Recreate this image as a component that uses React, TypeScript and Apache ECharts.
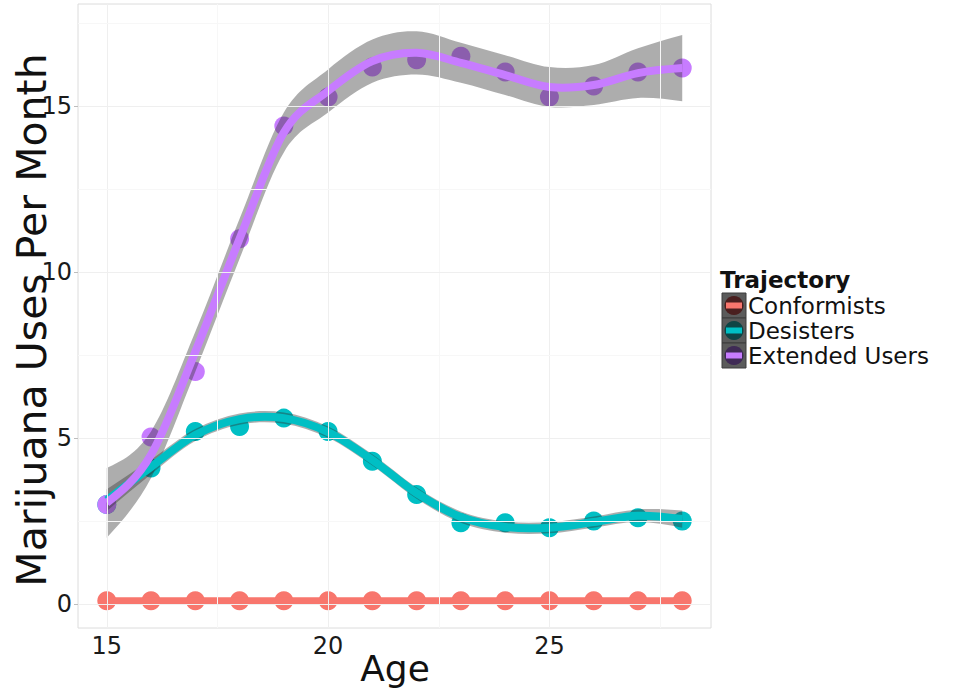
import React, { useEffect, useRef } from "react";
import * as echarts from "echarts";

// ---- data ----
const ages = [15, 16, 17, 18, 19, 20, 21, 22, 23, 24, 25, 26, 27, 28];
const groupNames = ["Conformists", "Desisters", "Extended Users"];
const groupColors = ["#F8766D", "#00BFC4", "#C77CFF"];
const keyDark = ["#4a1f1f", "#0f4445", "#3f2a55"];

const conformists = [0.1, 0.1, 0.1, 0.1, 0.1, 0.1, 0.1, 0.1, 0.1, 0.1, 0.1, 0.1, 0.1, 0.1];
const desisters = [3.0, 4.1, 5.2, 5.35, 5.6, 5.2, 4.3, 3.3, 2.45, 2.45, 2.3, 2.5, 2.6, 2.5];
const extended = [3.0, 5.03, 7.0, 11.0, 14.4, 15.27, 16.17, 16.39, 16.5, 16.02, 15.27, 15.6, 16.02, 16.14];

// smoothed fits (loess) and their confidence bands
const conformFit = [0.1, 0.1, 0.1, 0.1, 0.1, 0.1, 0.1, 0.1, 0.1, 0.1, 0.1, 0.1, 0.1, 0.1];
const desFit = [3.13, 4.13, 5.09, 5.57, 5.6, 5.18, 4.34, 3.34, 2.62, 2.32, 2.3, 2.47, 2.66, 2.56];
const desLower = [2.8, 3.91, 4.91, 5.4, 5.43, 5.01, 4.17, 3.17, 2.45, 2.15, 2.13, 2.3, 2.47, 2.3];
const desUpper = [3.46, 4.35, 5.27, 5.74, 5.77, 5.35, 4.51, 3.51, 2.79, 2.49, 2.47, 2.64, 2.85, 2.82];
const extFit = [3.05, 4.5, 7.6, 11.0, 14.2, 15.45, 16.35, 16.6, 16.3, 15.93, 15.57, 15.63, 15.99, 16.14];
const extLower = [2.0, 3.8, 7.0, 10.4, 13.6, 14.8, 15.7, 15.95, 15.7, 15.33, 14.97, 15.03, 15.24, 15.14];
const extUpper = [4.1, 5.2, 8.2, 11.6, 14.8, 16.1, 17.0, 17.25, 16.9, 16.53, 16.17, 16.23, 16.74, 17.14];

const xTicks = [15, 20, 25];
const yTicks = [0, 5, 10, 15];
const xMinor = [17.5, 22.5, 27.5];
const yMinor = [2.5, 7.5, 12.5, 17.5];

const FONT = "DejaVu Sans";

type Pt = [number, number];

// cubic Hermite segments through the given values (data space)
function segments(xs: number[], ys: number[]): Pt[][] {
  const n = xs.length;
  const m: number[] = ys.map((_, i) => {
    if (i === 0 || i === n - 1) return 0;
    return (ys[i + 1] - ys[i - 1]) / (xs[i + 1] - xs[i - 1]);
  });
  m[0] = (3 * (ys[1] - ys[0]) / (xs[1] - xs[0]) - m[1]) / 2;
  m[n - 1] = (3 * (ys[n - 1] - ys[n - 2]) / (xs[n - 1] - xs[n - 2]) - m[n - 2]) / 2;
  const out: Pt[][] = [];
  for (let i = 0; i < n - 1; i++) {
    const h = xs[i + 1] - xs[i];
    out.push([
      [xs[i], ys[i]],
      [xs[i] + h / 3, ys[i] + (m[i] * h) / 3],
      [xs[i + 1] - h / 3, ys[i + 1] - (m[i + 1] * h) / 3],
      [xs[i + 1], ys[i + 1]],
    ]);
  }
  return out;
}

export default function App() {
  const ref = useRef<HTMLDivElement>(null);
  useEffect(() => {
    document.body.style.margin = "0";
    const chart = echarts.init(ref.current!, null, { renderer: "svg" });
    const pts = (vals: number[]) => ages.map((a, i) => [a, vals[i]]);

    const gridLines: any[] = [
      ...xTicks.map((v) => ({ xAxis: v, lineStyle: { color: "#efefef", width: 1, type: "solid" } })),
      ...xMinor.map((v) => ({ xAxis: v, lineStyle: { color: "#f7f7f7", width: 1, type: "solid" } })),
      ...yTicks.map((v) => ({ yAxis: v, lineStyle: { color: "#efefef", width: 1, type: "solid" } })),
      ...yMinor.map((v) => ({ yAxis: v, lineStyle: { color: "#f7f7f7", width: 1, type: "solid" } })),
    ];

    const scatter = (vals: number[], color: string) => ({
      type: "scatter",
      data: pts(vals),
      symbolSize: 19,
      itemStyle: { color, opacity: 1 },
      z: 2,
      silent: true,
    });

    const ribbon = (lo: number[], hi: number[]) => ({
      type: "custom",
      coordinateSystem: "cartesian2d",
      data: [[ages[0], lo[0]]],
      z: 3,
      silent: true,
      renderItem: (_params: any, api: any) => {
        const P = (p: Pt) => api.coord(p).map((v: number) => v.toFixed(2)).join(" ");
        const up = segments(ages, hi);
        const low = segments(ages, lo).reverse();
        let d = "M " + P(up[0][0]);
        up.forEach((g) => (d += ` C ${P(g[1])} ${P(g[2])} ${P(g[3])}`));
        d += " L " + P(low[0][3]);
        low.forEach((g) => (d += ` C ${P(g[2])} ${P(g[1])} ${P(g[0])}`));
        d += " Z";
        return { type: "path", shape: { pathData: d }, style: { fill: "rgba(51,51,51,0.4)", stroke: "none" } };
      },
    });

    const fit = (vals: number[], color: string, width: number) => ({
      type: "custom",
      coordinateSystem: "cartesian2d",
      data: [[ages[0], vals[0]]],
      z: 4,
      silent: true,
      renderItem: (_params: any, api: any) => {
        const P = (p: Pt) => api.coord(p).map((v: number) => v.toFixed(2)).join(" ");
        const s = segments(ages, vals);
        let d = "M " + P(s[0][0]);
        s.forEach((g) => (d += ` C ${P(g[1])} ${P(g[2])} ${P(g[3])}`));
        return { type: "path", shape: { pathData: d }, style: { fill: "none", stroke: color, lineWidth: width, lineCap: "butt" } };
      },
    });

    const legendGraphics: any[] = [
      {
        type: "text",
        x: 720,
        y: 280,
        style: { text: "Trajectory", font: `bold 23px "${FONT}"`, fill: "#111", verticalAlign: "middle", lineHeight: 23 },
      },
    ];
    groupNames.forEach((name, i) => {
      const top = 293 + i * 25;
      const cy = top + 12.5;
      legendGraphics.push(
        { type: "rect", shape: { x: 722, y: top, width: 24, height: 25 }, style: { fill: "#5b5b5b", stroke: "#3d3d3d", lineWidth: 1 } },
        { type: "circle", shape: { cx: 734, cy, r: 9.5 }, style: { fill: keyDark[i] } },
        { type: "line", shape: { x1: 726, y1: cy, x2: 742, y2: cy }, style: { stroke: groupColors[i], lineWidth: 6 } },
        { type: "text", x: 748, y: cy, style: { text: name, font: `23px "${FONT}"`, fill: "#111", verticalAlign: "middle", lineHeight: 23 } }
      );
    });

    chart.setOption({
      animation: false,
      backgroundColor: "#ffffff",
      grid: {
        left: 78,
        top: 4,
        width: 633,
        height: 624,
        show: true,
        borderColor: "#dcdcdc",
        borderWidth: 1,
        backgroundColor: "#ffffff",
      },
      xAxis: {
        type: "value",
        min: 14.35,
        max: 28.65,
        axisLine: { show: false },
        splitLine: { show: false },
        axisTick: { show: true, customValues: xTicks, length: 4, lineStyle: { color: "#bdbdbd" } },
        axisLabel: { customValues: xTicks, fontFamily: FONT, fontSize: 24, color: "#1a1a1a", margin: 6 },
      },
      yAxis: {
        type: "value",
        min: -0.72,
        max: 18.07,
        axisLine: { show: false },
        splitLine: { show: false },
        axisTick: { show: true, customValues: yTicks, length: 4, lineStyle: { color: "#bdbdbd" } },
        axisLabel: { customValues: yTicks, fontFamily: FONT, fontSize: 24, color: "#1a1a1a", margin: 6 },
      },
      series: [
        {
          type: "line",
          data: [],
          z: 1,
          silent: true,
          markLine: { silent: true, symbol: ["none", "none"], label: { show: false }, data: gridLines, animation: false },
        },
        scatter(conformists, groupColors[0]),
        scatter(desisters, groupColors[1]),
        scatter(extended, groupColors[2]),
        ribbon(desLower, desUpper),
        ribbon(extLower, extUpper),
        fit(conformFit, groupColors[0], 7),
        fit(desFit, groupColors[1], 8),
        fit(extFit, groupColors[2], 8),
      ],
      graphic: [
        {
          type: "text",
          x: 32,
          y: 320,
          rotation: Math.PI / 2,
          style: { text: "Marijuana Uses Per Month", font: `41px "${FONT}"`, fill: "#111", align: "center", verticalAlign: "middle" },
        },
        {
          type: "text",
          x: 395,
          y: 668,
          style: { text: "Age", font: `36px "${FONT}"`, fill: "#111", align: "center", verticalAlign: "middle" },
        },
        ...legendGraphics,
      ],
    });
    return () => chart.dispose();
  }, []);
  return <div ref={ref} style={{ position: "fixed", left: 0, top: 0, width: 953, height: 692 }} />;
}
